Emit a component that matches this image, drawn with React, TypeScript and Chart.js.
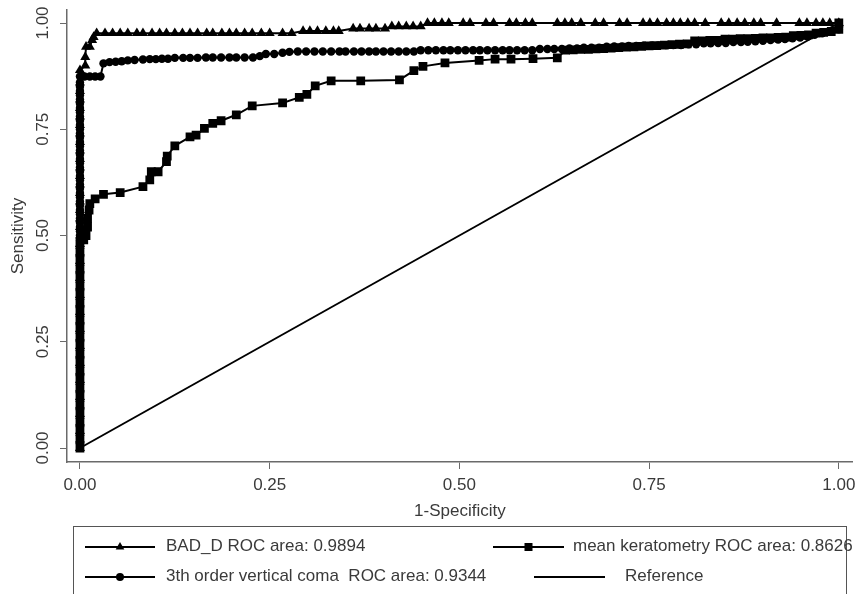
import React, { useEffect, useRef } from 'react';
import { Chart, registerables } from 'chart.js';

Chart.register(...registerables);

const xTicks = [0, 0.25, 0.5, 0.75, 1];
const yTicks = [0, 0.25, 0.5, 0.75, 1];
const xTitle = '1-Specificity';
const yTitle = 'Sensitivity';
const legendLabels = [
  'BAD_D ROC area: 0.9894',
  'mean keratometry ROC area: 0.8626',
  '3th order vertical coma  ROC area: 0.9344',
  'Reference',
];

// [1-specificity, sensitivity]
const badD: [number, number][] = [
  [0, 0], [0, 0.02], [0, 0.04], [0, 0.06], [0, 0.08], [0, 0.1], [0, 0.12], [0, 0.14], [0, 0.16], [0, 0.18],
  [0, 0.2], [0, 0.22], [0, 0.24], [0, 0.26], [0, 0.28], [0, 0.3], [0, 0.32], [0, 0.34], [0, 0.36], [0, 0.38],
  [0, 0.4], [0, 0.42], [0, 0.44], [0, 0.46], [0, 0.48], [0, 0.5], [0, 0.52], [0, 0.54], [0, 0.56], [0, 0.58],
  [0, 0.6], [0, 0.62], [0, 0.64], [0, 0.66], [0, 0.68], [0, 0.7], [0, 0.72], [0, 0.74], [0, 0.76], [0, 0.78],
  [0, 0.8], [0, 0.82], [0, 0.84], [0, 0.86], [0, 0.889],
  [0.007, 0.9], [0.007, 0.92], [0.008, 0.944], [0.013, 0.944], [0.016, 0.96], [0.018, 0.967],
  [0.022, 0.976], [0.033, 0.976], [0.043, 0.976], [0.053, 0.976], [0.063, 0.976], [0.075, 0.976],
  [0.083, 0.976], [0.095, 0.976], [0.105, 0.976], [0.114, 0.976], [0.125, 0.976], [0.135, 0.976],
  [0.145, 0.976], [0.155, 0.976], [0.167, 0.976], [0.175, 0.976], [0.187, 0.976], [0.197, 0.976],
  [0.206, 0.976], [0.217, 0.976], [0.227, 0.976], [0.239, 0.976], [0.25, 0.976], [0.267, 0.976],
  [0.279, 0.976], [0.294, 0.981], [0.303, 0.981], [0.313, 0.981], [0.324, 0.981], [0.334, 0.981],
  [0.341, 0.981], [0.36, 0.987], [0.369, 0.987], [0.381, 0.987], [0.39, 0.987], [0.402, 0.987],
  [0.411, 0.992], [0.42, 0.992], [0.43, 0.992], [0.439, 0.992], [0.449, 0.992], [0.458, 1],
  [0.467, 1], [0.477, 1], [0.486, 1], [0.505, 1], [0.514, 1], [0.535, 1], [0.545, 1], [0.566, 1],
  [0.575, 1], [0.587, 1], [0.596, 1], [0.629, 1], [0.639, 1], [0.648, 1], [0.66, 1], [0.679, 1],
  [0.69, 1], [0.711, 1], [0.721, 1], [0.742, 1], [0.751, 1], [0.761, 1], [0.773, 1], [0.782, 1],
  [0.791, 1], [0.801, 1], [0.81, 1], [0.824, 1], [0.845, 1], [0.855, 1], [0.866, 1], [0.876, 1],
  [0.888, 1], [0.897, 1], [0.918, 1], [0.948, 1], [0.958, 1], [0.97, 1], [0.979, 1], [0.988, 1], [1, 1],
];

const coma: [number, number][] = [
  [0, 0.01], [0, 0.03], [0, 0.05], [0, 0.07], [0, 0.09], [0, 0.11], [0, 0.13], [0, 0.15], [0, 0.17], [0, 0.19],
  [0, 0.21], [0, 0.23], [0, 0.25], [0, 0.27], [0, 0.29], [0, 0.31], [0, 0.33], [0, 0.35], [0, 0.37], [0, 0.39],
  [0, 0.41], [0, 0.43], [0, 0.45], [0, 0.47], [0, 0.49], [0, 0.5], [0, 0.51], [0, 0.52], [0, 0.53], [0, 0.54],
  [0, 0.55], [0, 0.56], [0, 0.57], [0, 0.58], [0, 0.59], [0, 0.6], [0, 0.61], [0, 0.62], [0, 0.63], [0, 0.64],
  [0, 0.65], [0, 0.66], [0, 0.67], [0, 0.68], [0, 0.69], [0, 0.7], [0, 0.71], [0, 0.72], [0, 0.73], [0, 0.74],
  [0, 0.75], [0, 0.76], [0, 0.77], [0, 0.78], [0, 0.79], [0, 0.8], [0, 0.81], [0, 0.82], [0, 0.83], [0, 0.84],
  [0, 0.85], [0, 0.86], [0, 0.874],
  [0.006, 0.874], [0.013, 0.874], [0.02, 0.874], [0.027, 0.874], [0.031, 0.905], [0.039, 0.908],
  [0.047, 0.909], [0.055, 0.91], [0.063, 0.912], [0.072, 0.913], [0.083, 0.914], [0.092, 0.915],
  [0.1, 0.915], [0.108, 0.916], [0.116, 0.916], [0.125, 0.918], [0.136, 0.918], [0.145, 0.918],
  [0.155, 0.918], [0.166, 0.919], [0.175, 0.919], [0.186, 0.919], [0.197, 0.919], [0.206, 0.919],
  [0.217, 0.919], [0.228, 0.919], [0.237, 0.922], [0.245, 0.927], [0.256, 0.927], [0.267, 0.93],
  [0.276, 0.932], [0.287, 0.933], [0.298, 0.933], [0.309, 0.933], [0.32, 0.933], [0.331, 0.933],
  [0.342, 0.933], [0.35, 0.933], [0.361, 0.933], [0.371, 0.933], [0.381, 0.933], [0.39, 0.933],
  [0.4, 0.933], [0.41, 0.933], [0.42, 0.933], [0.43, 0.933], [0.44, 0.933], [0.449, 0.936],
  [0.459, 0.936], [0.469, 0.936], [0.479, 0.936], [0.488, 0.936], [0.498, 0.936], [0.508, 0.936],
  [0.518, 0.936], [0.527, 0.936], [0.537, 0.936], [0.547, 0.936], [0.557, 0.936], [0.566, 0.936],
  [0.576, 0.936], [0.586, 0.936], [0.596, 0.936], [0.606, 0.939], [0.616, 0.939], [0.625, 0.939],
  [0.635, 0.939], [0.645, 0.94], [0.655, 0.94], [0.664, 0.942], [0.674, 0.942], [0.684, 0.942],
  [0.694, 0.944], [0.704, 0.945], [0.714, 0.945], [0.723, 0.946], [0.733, 0.946], [0.743, 0.947],
  [0.753, 0.947], [0.762, 0.947], [0.772, 0.948], [0.782, 0.948], [0.792, 0.948], [0.802, 0.95],
  [0.812, 0.95], [0.822, 0.952], [0.831, 0.952], [0.841, 0.953], [0.851, 0.953], [0.861, 0.955],
  [0.871, 0.955], [0.88, 0.956], [0.89, 0.957], [0.9, 0.958], [0.91, 0.96], [0.92, 0.961],
  [0.929, 0.962], [0.939, 0.964], [0.949, 0.966], [0.959, 0.968], [0.968, 0.972], [0.978, 0.976],
  [0.988, 0.98], [1, 0.985], [1, 1],
];

const meanK: [number, number][] = [
  [0, 0], [0, 0.02], [0, 0.04], [0, 0.06], [0, 0.08], [0, 0.1], [0, 0.12], [0, 0.14], [0, 0.16], [0, 0.18],
  [0, 0.2], [0, 0.22], [0, 0.24], [0, 0.26], [0, 0.28], [0, 0.3], [0, 0.32], [0, 0.34], [0, 0.36], [0, 0.38],
  [0, 0.4], [0, 0.42], [0, 0.44], [0, 0.46], [0, 0.48],
  [0.005, 0.49], [0.008, 0.5], [0.01, 0.52], [0.01, 0.54], [0.012, 0.56], [0.013, 0.575], [0.02, 0.586],
  [0.031, 0.597], [0.053, 0.601], [0.083, 0.615], [0.092, 0.631], [0.094, 0.65], [0.103, 0.65],
  [0.114, 0.674], [0.115, 0.687], [0.125, 0.711], [0.145, 0.732], [0.153, 0.736], [0.164, 0.752],
  [0.175, 0.764], [0.186, 0.77], [0.206, 0.784], [0.227, 0.805], [0.267, 0.812], [0.289, 0.825],
  [0.299, 0.832], [0.31, 0.852], [0.331, 0.864], [0.37, 0.864], [0.421, 0.866], [0.44, 0.888],
  [0.452, 0.898], [0.481, 0.906], [0.526, 0.912], [0.547, 0.915], [0.568, 0.915], [0.597, 0.916],
  [0.629, 0.918], [0.64, 0.936], [0.65, 0.937], [0.66, 0.938], [0.67, 0.938], [0.68, 0.939],
  [0.69, 0.94], [0.7, 0.941], [0.71, 0.942], [0.72, 0.943], [0.73, 0.944], [0.74, 0.945], [0.75, 0.946],
  [0.76, 0.947], [0.77, 0.948], [0.78, 0.949], [0.79, 0.95], [0.8, 0.951], [0.81, 0.958], [0.82, 0.958],
  [0.83, 0.959], [0.84, 0.959], [0.85, 0.962], [0.86, 0.962], [0.87, 0.963], [0.88, 0.963], [0.89, 0.964],
  [0.9, 0.965], [0.91, 0.965], [0.92, 0.966], [0.93, 0.967], [0.94, 0.97], [0.95, 0.971], [0.96, 0.972],
  [0.97, 0.976], [0.98, 0.978], [0.99, 0.98], [1, 0.985], [1, 1],
];

const reference: [number, number][] = [[0, 0], [1, 1]];

const FONT = "'Liberation Sans', Arial, Helvetica, sans-serif";
const TEXT = '#3a3a3a';
const AXIS = '#6a6a6a';

const toXY = (arr: [number, number][]) => arr.map(([x, y]) => ({ x, y }));

function drawMarker(ctx: CanvasRenderingContext2D, style: string, x: number, y: number) {
  ctx.beginPath();
  if (style === 'triangle') {
    const r = 5;
    ctx.moveTo(x, y - r);
    ctx.lineTo(x + r * 0.866, y + r * 0.5);
    ctx.lineTo(x - r * 0.866, y + r * 0.5);
    ctx.closePath();
  } else if (style === 'rect') {
    ctx.rect(x - 4, y - 4, 8, 8);
  } else if (style === 'circle') {
    ctx.arc(x, y, 4, 0, Math.PI * 2);
  } else {
    return;
  }
  ctx.fill();
}

const legendPlugin = {
  id: 'stataLegend',
  afterDraw(chart: any) {
    const ctx: CanvasRenderingContext2D = chart.ctx;
    ctx.save();
    ctx.strokeStyle = '#555';
    ctx.lineWidth = 1;
    ctx.strokeRect(73.5, 526.5, 773, 120);
    const items = [
      { label: legendLabels[0], style: 'triangle', x0: 85, x1: 155, tx: 166, y: 547 },
      { label: legendLabels[1], style: 'rect', x0: 493, x1: 564, tx: 573, y: 547 },
      { label: legendLabels[2], style: 'circle', x0: 85, x1: 155, tx: 166, y: 577 },
      { label: legendLabels[3], style: 'none', x0: 534, x1: 605, tx: 625, y: 577 },
    ];
    ctx.font = `17px ${FONT}`;
    ctx.textBaseline = 'middle';
    ctx.textAlign = 'left';
    for (const it of items) {
      ctx.strokeStyle = '#000';
      ctx.lineWidth = 2;
      ctx.beginPath();
      ctx.moveTo(it.x0, it.y);
      ctx.lineTo(it.x1, it.y);
      ctx.stroke();
      ctx.fillStyle = '#000';
      drawMarker(ctx, it.style, (it.x0 + it.x1) / 2, it.y);
      ctx.fillStyle = TEXT;
      ctx.fillText(it.label, it.tx, it.y - 1);
    }
    ctx.restore();
  },
};

export default function App() {
  const ref = useRef<HTMLCanvasElement | null>(null);
  useEffect(() => {
    if (!ref.current) return;
    Chart.defaults.font.family = FONT;
    const lineDs = (label: string, data: [number, number][], style: string, radius: number) => ({
      label,
      data: toXY(data),
      showLine: true,
      borderColor: '#000',
      backgroundColor: '#000',
      borderWidth: 2,
      pointStyle: style,
      pointRadius: radius,
      pointBorderWidth: 0,
      pointBackgroundColor: '#000',
      tension: 0,
    });
    const chart = new Chart(ref.current, {
      type: 'scatter',
      data: {
        datasets: [
          lineDs(legendLabels[1], meanK, 'rect', 6.2),
          lineDs(legendLabels[2], coma, 'circle', 4.2),
          lineDs(legendLabels[0], badD, 'triangle', 5.8),
          { ...lineDs(legendLabels[3], reference, 'circle', 0) },
        ] as any,
      },
      options: {
        animation: false,
        responsive: false,
        maintainAspectRatio: false,
        events: [],
        layout: { padding: { left: 0, top: 10, right: 4, bottom: 0 } },
        plugins: { legend: { display: false }, tooltip: { enabled: false } },
        scales: {
          x: {
            type: 'linear',
            min: -0.01708,
            max: 1.0184,
            afterBuildTicks: (s: any) => { s.ticks = xTicks.map((v) => ({ value: v })); },
            afterFit: (s: any) => { s.height = 132; s.paddingLeft = 0; s.paddingRight = 0; },
            grid: { drawOnChartArea: false, drawTicks: true, tickLength: 7, color: AXIS, tickColor: AXIS, lineWidth: 1 },
            border: { display: true, color: AXIS, width: 1.5 },
            ticks: {
              padding: 6,
              color: TEXT,
              font: { size: 17, family: FONT },
              maxRotation: 0,
              minRotation: 0,
              callback: (v: any) => Number(v).toFixed(2),
            },
            title: { display: true, text: xTitle, color: TEXT, font: { size: 17, family: FONT }, padding: { top: 0, bottom: 72 } },
          },
          y: {
            type: 'linear',
            min: -0.03294,
            max: 1.03059,
            afterBuildTicks: (s: any) => { s.ticks = yTicks.map((v) => ({ value: v })); },
            afterFit: (s: any) => { s.width = 67; s.paddingTop = 0; s.paddingBottom = 0; },
            grid: { drawOnChartArea: false, drawTicks: true, tickLength: 7, color: AXIS, tickColor: AXIS, lineWidth: 1 },
            border: { display: true, color: AXIS, width: 1.5 },
            ticks: {
              padding: 0,
              minRotation: 90,
              maxRotation: 90,
              crossAlign: 'center',
              color: TEXT,
              font: { size: 17, family: FONT },
              callback: (v: any) => Number(v).toFixed(2),
            },
            title: { display: true, text: yTitle, color: TEXT, font: { size: 17, family: FONT }, padding: { top: 8, bottom: 0 } },
          },
        },
      } as any,
      plugins: [legendPlugin],
    });
    return () => chart.destroy();
  }, []);
  return (
    <div style={{ position: 'fixed', left: 0, top: 0, width: 859, height: 594, background: '#fff' }}>
      <canvas ref={ref} width={859} height={594} style={{ display: 'block' }} />
    </div>
  );
}
